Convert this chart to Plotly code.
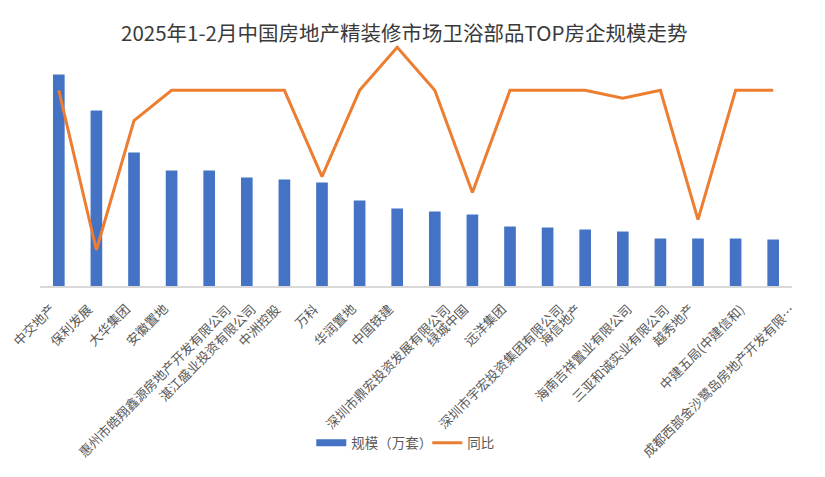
import plotly.graph_objects as go

categories = [
    "中交地产", "保利发展", "大华集团", "安徽置地",
    "惠州市皓翔鑫源房地产开发有限公司", "湛江盛业投资有限公司", "中洲控股", "万科",
    "华润置地", "中国铁建", "深圳市鼎宏投资发展有限公司", "绿城中国",
    "远洋集团", "深圳市宇宏投资集团有限公司", "海信地产", "海南吉祥置业有限公司",
    "三亚和诚实业有限公司", "越秀地产", "中建五局(中建信和)", "成都西部金沙鹭岛房地产开发有限…",
]
scale_values = [4.23, 3.51, 2.67, 2.31, 2.31, 2.17, 2.13, 2.07, 1.71, 1.55,
                1.49, 1.43, 1.19, 1.17, 1.13, 1.09, 0.95, 0.95, 0.95, 0.93]
yoy_values = [0.0, -1.0, -0.19, 0.0, 0.0, 0.0, 0.0, -0.54, 0.0, 0.27,
              0.0, -0.64, 0.0, 0.0, 0.0, -0.05, 0.0, -0.81, 0.0, 0.0]
bar_name = "规模（万套）"
line_name = "同比"

font_family = "Noto Sans CJK SC, Noto Sans, sans-serif"
bar_color = "#4472C4"
line_color = "#ED7D31"
label_color = "#595959"

fig = go.Figure()
fig.add_trace(go.Bar(
    x=categories, y=scale_values, name=bar_name, showlegend=False,
    marker=dict(color=bar_color, line=dict(width=0)), width=0.31,
))
# legend swatch for bars (wide rectangle like the original)
fig.add_trace(go.Scatter(
    x=[None], y=[None], name=bar_name, mode="lines",
    line=dict(color=bar_color, width=7),
))
fig.add_trace(go.Scatter(
    x=categories, y=yoy_values, name=line_name, mode="lines",
    line=dict(color=line_color, width=3), yaxis="y2",
))

# category labels, rotated; longer labels sit a little further right (Excel style)
labels = []
for cat in categories:
    shift = 3 + max(0, len(cat) - 4) * 2.1
    labels.append(dict(
        x=cat, xref="x", y=0, yref="paper", text=cat, showarrow=False,
        textangle=-45, xanchor="right", yanchor="top",
        xshift=shift, yshift=-11,
        font=dict(family=font_family, size=13, color=label_color),
    ))

fig.update_layout(
    width=825, height=477,
    margin=dict(l=40, r=33, t=40, b=191),
    paper_bgcolor="white", plot_bgcolor="white",
    title=dict(text="2025年1-2月中国房地产精装修市场卫浴部品TOP房企规模走势",
               x=0.49, xanchor="center", y=0.93, yanchor="middle",
               font=dict(family=font_family, size=20.5, color="#3a3a3a")),
    font=dict(family=font_family, color=label_color),
    xaxis=dict(showticklabels=False, range=[-0.5, len(categories) - 0.5],
               autorange=False,
               showline=True, linecolor="#D9D9D9", linewidth=1.5,
               showgrid=False, ticks=""),
    yaxis=dict(range=[0, 4.92], visible=False, showgrid=False),
    yaxis2=dict(range=[-1.2254, 0.315], overlaying="y", side="right",
                visible=False, showgrid=False),
    legend=dict(orientation="h", x=0.515, xanchor="center", y=-0.638,
                yanchor="middle", font=dict(size=13.5, color=label_color),
                traceorder="normal", entrywidth=71, entrywidthmode="pixels"),
    annotations=labels,
    showlegend=True,
)

fig.write_html("out.html")
